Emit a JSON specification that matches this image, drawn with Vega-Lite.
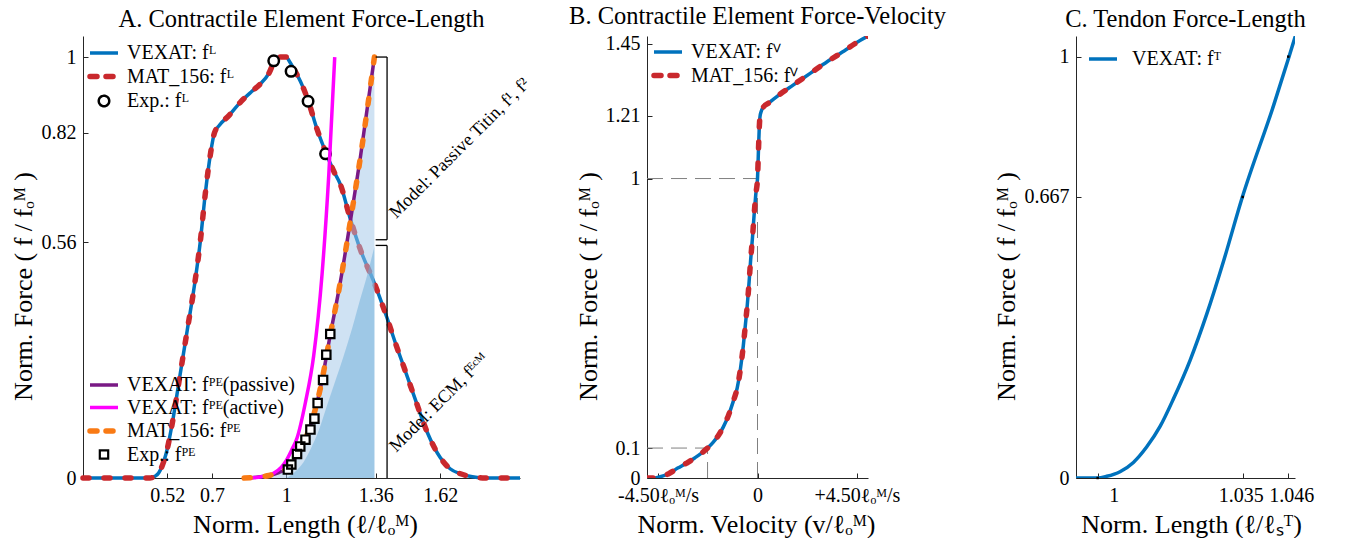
{
  "$schema": "https://vega.github.io/schema/vega-lite/v6.json",
  "padding": {"left": 10, "top": 4, "right": 5, "bottom": 0},
  "config": {
    "view": {"stroke": null},
    "font": "Liberation Serif",
    "title": {"font": "Liberation Serif", "fontSize": 24.5, "fontWeight": "normal", "color": "#000000", "offset": 4},
    "axis": {"labelFont": "Liberation Serif", "labelFontSize": 20, "labelColor": "#000000", "titleFont": "Liberation Serif", "titleFontSize": 26, "titleFontWeight": "normal", "titleColor": "#000000", "domainColor": "#262626", "domainWidth": 1, "tickColor": "#262626", "tickSize": -5, "tickWidth": 1, "labelPadding": 12, "grid": false, "labelFlush": false, "labelOverlap": false},
    "legend": {"labelFont": "Liberation Serif", "labelFontSize": 20, "labelColor": "#000000", "labelLimit": 400, "symbolSize": 400, "symbolType": "stroke", "labelOffset": 13, "rowPadding": 2.5, "padding": 4, "orient": "none", "title": null}
  },
  "datasets": {
    "fl": [
      {"x": 0.18, "y": 0}, {"x": 0.45, "y": 0}, {"x": 0.47, "y": 0.004}, {"x": 0.485, "y": 0.012}, {"x": 0.5, "y": 0.03}, {"x": 0.516, "y": 0.06}, {"x": 0.54, "y": 0.13}, {"x": 0.57, "y": 0.24}, {"x": 0.6, "y": 0.35}, {"x": 0.63, "y": 0.46}, {"x": 0.653, "y": 0.562}, {"x": 0.673, "y": 0.675}, {"x": 0.694, "y": 0.77}, {"x": 0.71, "y": 0.82}, {"x": 0.73, "y": 0.838}, {"x": 0.77, "y": 0.862}, {"x": 0.815, "y": 0.893}, {"x": 0.86, "y": 0.918}, {"x": 0.895, "y": 0.936}, {"x": 0.93, "y": 0.962}, {"x": 0.956, "y": 0.995}, {"x": 0.965, "y": 1.0}, {"x": 1.0, "y": 1.0}, {"x": 1.012, "y": 0.99}, {"x": 1.028, "y": 0.974}, {"x": 1.063, "y": 0.934}, {"x": 1.0875, "y": 0.897}, {"x": 1.124, "y": 0.828}, {"x": 1.158, "y": 0.775}, {"x": 1.19, "y": 0.73}, {"x": 1.218, "y": 0.697}, {"x": 1.258, "y": 0.615}, {"x": 1.3, "y": 0.54}, {"x": 1.352, "y": 0.467}, {"x": 1.406, "y": 0.38}, {"x": 1.44, "y": 0.32}, {"x": 1.473, "y": 0.265}, {"x": 1.513, "y": 0.198}, {"x": 1.567, "y": 0.11}, {"x": 1.621, "y": 0.048}, {"x": 1.66, "y": 0.022}, {"x": 1.702, "y": 0.01}, {"x": 1.75, "y": 0.003}, {"x": 1.8, "y": 0}, {"x": 1.942, "y": 0}
    ],
    "fl_exp": [
      {"x": 0.949, "y": 0.991}, {"x": 1.019, "y": 0.966}, {"x": 1.0875, "y": 0.895}, {"x": 1.158, "y": 0.77}
    ],
    "fpe_pass": [
      {"x": 0.83, "y": 0}, {"x": 0.88, "y": 0.002}, {"x": 0.93, "y": 0.006}, {"x": 0.97, "y": 0.013}, {"x": 1.0, "y": 0.022}, {"x": 1.02, "y": 0.034}, {"x": 1.043, "y": 0.055}, {"x": 1.07, "y": 0.085}, {"x": 1.097, "y": 0.124}, {"x": 1.137, "y": 0.213}, {"x": 1.177, "y": 0.34}, {"x": 1.218, "y": 0.467}, {"x": 1.258, "y": 0.61}, {"x": 1.298, "y": 0.76}, {"x": 1.355, "y": 1.0}
    ],
    "fpe_act": [
      {"x": 0.85, "y": 0}, {"x": 0.9, "y": 0.003}, {"x": 0.95, "y": 0.012}, {"x": 0.98, "y": 0.026}, {"x": 1.0, "y": 0.042}, {"x": 1.02, "y": 0.065}, {"x": 1.043, "y": 0.095}, {"x": 1.077, "y": 0.18}, {"x": 1.11, "y": 0.29}, {"x": 1.144, "y": 0.485}, {"x": 1.171, "y": 0.72}, {"x": 1.195, "y": 1.0}
    ],
    "fpe_exp": [
      {"x": 1.006, "y": 0.02}, {"x": 1.02, "y": 0.032}, {"x": 1.043, "y": 0.057}, {"x": 1.056, "y": 0.075}, {"x": 1.077, "y": 0.091}, {"x": 1.097, "y": 0.115}, {"x": 1.113, "y": 0.141}, {"x": 1.126, "y": 0.178}, {"x": 1.148, "y": 0.233}, {"x": 1.161, "y": 0.293}, {"x": 1.177, "y": 0.342}
    ],
    "ecm": [
      {"x": 1.0, "y": 0}, {"x": 1.03, "y": 0.012}, {"x": 1.06, "y": 0.03}, {"x": 1.097, "y": 0.068}, {"x": 1.13, "y": 0.112}, {"x": 1.164, "y": 0.172}, {"x": 1.2, "y": 0.235}, {"x": 1.231, "y": 0.29}, {"x": 1.265, "y": 0.355}, {"x": 1.298, "y": 0.425}, {"x": 1.325, "y": 0.48}, {"x": 1.355, "y": 0.55}
    ],
    "brackets": [
      {"x": 1.406, "x2": 1.406, "y": 0.566, "y2": 1.0}, {"x": 1.36, "x2": 1.406, "y": 1.0, "y2": 1.0}, {"x": 1.36, "x2": 1.406, "y": 0.566, "y2": 0.566},
      {"x": 1.406, "x2": 1.406, "y": 0, "y2": 0.5525}, {"x": 1.36, "x2": 1.406, "y": 0.5525, "y2": 0.5525}
    ],
    "annot": [
      {"x": 1.443, "y": 0.615, "label": "Model: Passive Titin, f¹, f²"},
      {"x": 1.443, "y": 0.06, "label": "Model: ECM, fᴱᶜᴹ"}
    ],
    "fv": [
      {"x": -5, "y": 0}, {"x": -4.68, "y": 0}, {"x": -4.53, "y": 0.002}, {"x": -4.0, "y": 0.015}, {"x": -3.61, "y": 0.033}, {"x": -3.2, "y": 0.05}, {"x": -2.84, "y": 0.067}, {"x": -2.55, "y": 0.082}, {"x": -2.26, "y": 0.1}, {"x": -2.0, "y": 0.12}, {"x": -1.77, "y": 0.142}, {"x": -1.55, "y": 0.17}, {"x": -1.31, "y": 0.21}, {"x": -1.1, "y": 0.255}, {"x": -0.92, "y": 0.3}, {"x": -0.78, "y": 0.36}, {"x": -0.645, "y": 0.44}, {"x": -0.55, "y": 0.51}, {"x": -0.46, "y": 0.58}, {"x": -0.38, "y": 0.655}, {"x": -0.31, "y": 0.728}, {"x": -0.23, "y": 0.8}, {"x": -0.154, "y": 0.878}, {"x": -0.08, "y": 0.945}, {"x": 0, "y": 1.0}, {"x": 0.046, "y": 1.1}, {"x": 0.08, "y": 1.17}, {"x": 0.11, "y": 1.205}, {"x": 0.17, "y": 1.225}, {"x": 0.26, "y": 1.238}, {"x": 0.5, "y": 1.252}, {"x": 0.845, "y": 1.272}, {"x": 1.61, "y": 1.312}, {"x": 2.4, "y": 1.352}, {"x": 3.15, "y": 1.39}, {"x": 4.0, "y": 1.43}, {"x": 4.4, "y": 1.45}, {"x": 5, "y": 1.476}
    ],
    "fv_ref": [
      {"x": -5, "x2": 0, "y": 1, "y2": 1}, {"x": 0, "x2": 0, "y": 0, "y2": 1}, {"x": -5, "x2": -2.26, "y": 0.1, "y2": 0.1}, {"x": -2.26, "x2": -2.26, "y": 0, "y2": 0.1}
    ],
    "ft": [
      {"x": 0.99478, "y": 0}, {"x": 1.0, "y": 0}, {"x": 1.00219, "y": 0.004}, {"x": 1.0054, "y": 0.015}, {"x": 1.00863, "y": 0.037}, {"x": 1.01186, "y": 0.074}, {"x": 1.0151, "y": 0.123}, {"x": 1.0183, "y": 0.188}, {"x": 1.02233, "y": 0.28}, {"x": 1.02636, "y": 0.39}, {"x": 1.03039, "y": 0.515}, {"x": 1.03483, "y": 0.664}, {"x": 1.04248, "y": 0.885}, {"x": 1.04612, "y": 0.998}, {"x": 1.04771, "y": 1.049}
    ],
    "ft_pts": [
      {"x": 1.0, "y": 0}, {"x": 1.035, "y": 0.667}, {"x": 1.046, "y": 1.0}
    ]
  },
  "spacing": 0,
  "bounds": "flush",
  "resolve": {"scale": {"color": "independent"}, "legend": {"color": "independent"}},
  "hconcat": [
    {
      "width": 437, "height": 442,
      "title": "A. Contractile Element Force-Length",
      "encoding": {
        "x": {"field": "x", "type": "quantitative", "scale": {"domain": [0.18, 1.942], "nice": false, "zero": false},
              "axis": {"values": [0.52, 0.7, 1, 1.36, 1.62], "labelExpr": "'' + datum.value", "title": "Norm. Length (ℓ/ℓₒᴹ)", "titleX": 222, "titleY": 54.5, "titleBaseline": "alphabetic", "titleAlign": "center"}},
        "y": {"field": "y", "type": "quantitative", "scale": {"domain": [0, 1.05], "nice": false},
              "axis": {"values": [0, 0.56, 0.82, 1], "labelExpr": "'' + datum.value", "title": "Norm. Force ( f / fₒᴹ )", "titleX": -60, "titleY": 250, "titleAngle": 270, "titleAlign": "center", "titleBaseline": "middle"}}
      },
      "layer": [
        {
          "layer": [
            {"data": {"name": "fl"}, "mark": {"type": "line", "strokeWidth": 3.5, "interpolate": "monotone"},
             "encoding": {"color": {"datum": "VEXAT: fᴸ", "type": "nominal",
               "scale": {"domain": ["VEXAT: fᴸ", "MAT_156: fᴸ", "Exp.: fᴸ"], "range": ["#0072BD", "#C9282D", "#000000"]},
               "legend": {"legendX": 7, "legendY": 3,
                 "encode": {"symbols": {"update": {
                   "shape": {"signal": "datum.value === 'Exp.: fᴸ' ? 'circle' : 'stroke'"},
                   "size": {"signal": "datum.value === 'Exp.: fᴸ' ? 110 : 784"},
                   "stroke": {"signal": "datum.value === 'VEXAT: fᴸ' ? '#0072BD' : (datum.value === 'MAT_156: fᴸ' ? '#C9282D' : '#000000')"},
                   "strokeWidth": {"signal": "datum.value === 'MAT_156: fᴸ' ? 5.5 : (datum.value === 'Exp.: fᴸ' ? 2.5 : 3.5)"},
                   "strokeDash": {"signal": "datum.value === 'MAT_156: fᴸ' ? [7, 9] : [1, 0]"},
                   "strokeCap": {"signal": "datum.value === 'MAT_156: fᴸ' ? 'round' : 'butt'"},
                   "fill": {"value": "#ffffff"},
                   "opacity": {"value": 1}
                 }}}}}}},
            {"data": {"name": "fl"}, "mark": {"type": "line", "strokeWidth": 5.5, "strokeDash": [6, 15], "strokeCap": "round", "interpolate": "monotone"},
             "encoding": {"color": {"datum": "MAT_156: fᴸ", "type": "nominal"}}},
            {"data": {"name": "fl_exp"}, "mark": {"type": "point", "shape": "circle", "filled": true, "color": "#ffffff", "size": 110, "opacity": 1}},
            {"data": {"name": "fl_exp"}, "mark": {"type": "point", "shape": "circle", "filled": false, "strokeWidth": 2.5, "size": 110, "opacity": 1},
             "encoding": {"color": {"datum": "Exp.: fᴸ", "type": "nominal"}}}
          ]
        },
        {"data": {"name": "fpe_pass"}, "mark": {"type": "area", "color": "#9fc5e8", "opacity": 0.5, "interpolate": "monotone"}},
        {"data": {"name": "ecm"}, "mark": {"type": "area", "color": "#6daed9", "opacity": 0.5, "interpolate": "monotone"}},
        {
          "layer": [
            {"data": {"name": "fpe_pass"}, "mark": {"type": "line", "strokeWidth": 3.5, "interpolate": "monotone"},
             "encoding": {"color": {"datum": "VEXAT: fᴾᴱ(passive)", "type": "nominal",
               "scale": {"domain": ["VEXAT: fᴾᴱ(passive)", "VEXAT: fᴾᴱ(active)", "MAT_156: fᴾᴱ", "Exp.: fᴾᴱ"], "range": ["#7a1a85", "#FF00FF", "#F97A14", "#000000"]},
               "legend": {"legendX": 7, "legendY": 335,
                 "encode": {"symbols": {"update": {
                   "shape": {"signal": "datum.value === 'Exp.: fᴾᴱ' ? 'square' : 'stroke'"},
                   "size": {"signal": "datum.value === 'Exp.: fᴾᴱ' ? 70 : 784"},
                   "stroke": {"signal": "datum.value === 'VEXAT: fᴾᴱ(passive)' ? '#7a1a85' : (datum.value === 'VEXAT: fᴾᴱ(active)' ? '#FF00FF' : (datum.value === 'MAT_156: fᴾᴱ' ? '#F97A14' : '#000000'))"},
                   "strokeWidth": {"signal": "datum.value === 'MAT_156: fᴾᴱ' ? 5.5 : (datum.value === 'Exp.: fᴾᴱ' ? 2.2 : 3.5)"},
                   "strokeDash": {"signal": "datum.value === 'MAT_156: fᴾᴱ' ? [7, 9] : [1, 0]"},
                   "strokeCap": {"signal": "datum.value === 'MAT_156: fᴾᴱ' ? 'round' : 'butt'"},
                   "fill": {"value": "#ffffff"},
                   "opacity": {"value": 1}
                 }}}}}}},
            {"data": {"name": "fpe_act"}, "mark": {"type": "line", "strokeWidth": 3.5, "interpolate": "monotone"},
             "encoding": {"color": {"datum": "VEXAT: fᴾᴱ(active)", "type": "nominal"}}},
            {"data": {"name": "fpe_pass"}, "mark": {"type": "line", "strokeWidth": 5.5, "strokeDash": [6, 15], "strokeCap": "round", "interpolate": "monotone"},
             "encoding": {"color": {"datum": "MAT_156: fᴾᴱ", "type": "nominal"}}},
            {"data": {"name": "fpe_exp"}, "mark": {"type": "point", "shape": "square", "filled": true, "color": "#ffffff", "size": 70, "opacity": 1}},
            {"data": {"name": "fpe_exp"}, "mark": {"type": "point", "shape": "square", "filled": false, "strokeWidth": 2.2, "size": 70, "opacity": 1},
             "encoding": {"color": {"datum": "Exp.: fᴾᴱ", "type": "nominal"}}}
          ]
        },
        {"data": {"name": "brackets"}, "mark": {"type": "rule", "color": "#000000", "strokeWidth": 1.3},
         "encoding": {"x2": {"field": "x2"}, "y2": {"field": "y2"}}},
        {"data": {"name": "annot"}, "mark": {"type": "text", "angle": 315, "align": "left", "baseline": "alphabetic", "font": "Liberation Serif", "fontSize": 18, "color": "#000000"},
         "encoding": {"text": {"field": "label"}}}
      ],
      "resolve": {"scale": {"color": "independent"}, "legend": {"color": "independent"}}
    },
    {"width": 127, "height": 442, "data": {"values": []}, "mark": "point"},
    {
      "width": 221, "height": 442,
      "title": "B. Contractile Element Force-Velocity",
      "encoding": {
        "x": {"field": "x", "type": "quantitative", "scale": {"domain": [-5, 5], "nice": false, "zero": false},
              "axis": {"values": [-4.5, 0, 4.5], "labelExpr": "datum.value < 0 ? '-4.50ℓₒᴹ/s' : (datum.value > 0 ? '+4.50ℓₒᴹ/s' : '0')", "title": "Norm. Velocity (v/ℓₒᴹ)", "titleX": 109, "titleY": 54.5, "titleBaseline": "alphabetic", "titleAlign": "center"}},
        "y": {"field": "y", "type": "quantitative", "scale": {"domain": [0, 1.476], "nice": false},
              "axis": {"values": [0, 0.1, 1, 1.21, 1.45], "labelExpr": "'' + datum.value", "title": "Norm. Force ( f / fₒᴹ )", "titleX": -59, "titleY": 250, "titleAngle": 270, "titleAlign": "center", "titleBaseline": "middle"}}
      },
      "layer": [
        {"data": {"name": "fv_ref"}, "mark": {"type": "rule", "color": "#808080", "strokeWidth": 1, "strokeDash": [16, 8]},
         "encoding": {"x2": {"field": "x2"}, "y2": {"field": "y2"}}},
        {"data": {"name": "fv"}, "mark": {"type": "line", "strokeWidth": 3.5, "interpolate": "monotone", "clip": true},
         "encoding": {"color": {"datum": "VEXAT: fⱽ", "type": "nominal",
           "scale": {"domain": ["VEXAT: fⱽ", "MAT_156: fⱽ"], "range": ["#0072BD", "#C9282D"]},
           "legend": {"legendX": 7, "legendY": 2,
             "encode": {"symbols": {"update": {
               "shape": {"value": "stroke"},
               "size": {"value": 784},
               "stroke": {"signal": "datum.value === 'VEXAT: fⱽ' ? '#0072BD' : '#C9282D'"},
               "strokeWidth": {"signal": "datum.value === 'MAT_156: fⱽ' ? 5.5 : 3.5"},
               "strokeDash": {"signal": "datum.value === 'MAT_156: fⱽ' ? [7, 9] : [1, 0]"},
               "strokeCap": {"signal": "datum.value === 'MAT_156: fⱽ' ? 'round' : 'butt'"},
               "opacity": {"value": 1}
             }}}}}}},
        {"data": {"name": "fv"}, "mark": {"type": "line", "strokeWidth": 5.5, "strokeDash": [6, 15], "strokeCap": "round", "interpolate": "monotone", "clip": true},
         "encoding": {"color": {"datum": "MAT_156: fⱽ", "type": "nominal"}}}
      ]
    },
    {"width": 208, "height": 442, "data": {"values": []}, "mark": "point"},
    {
      "width": 219, "height": 442,
      "title": "C. Tendon Force-Length",
      "encoding": {
        "x": {"field": "x", "type": "quantitative", "scale": {"domain": [0.99478, 1.04762], "nice": false, "zero": false},
              "axis": {"values": [1, 1.035, 1.046], "labelExpr": "'' + datum.value", "title": "Norm. Length (ℓ/ℓₛᵀ)", "titleX": 115, "titleY": 54.5, "titleBaseline": "alphabetic", "titleAlign": "center",
                       "labelOffset": {"condition": [{"test": "datum.value < 1.01", "value": 16}, {"test": "datum.value < 1.04", "value": -2}], "value": 3}}},
        "y": {"field": "y", "type": "quantitative", "scale": {"domain": [0, 1.049], "nice": false},
              "axis": {"values": [0, 0.667, 1], "labelExpr": "'' + datum.value", "title": "Norm. Force ( f / fₒᴹ )", "titleX": -70, "titleY": 250, "titleAngle": 270, "titleAlign": "center", "titleBaseline": "middle"}}
      },
      "layer": [
        {"data": {"name": "ft"}, "mark": {"type": "line", "strokeWidth": 3.5, "interpolate": "monotone", "clip": true},
         "encoding": {"color": {"datum": "VEXAT: fᵀ", "type": "nominal",
           "scale": {"domain": ["VEXAT: fᵀ"], "range": ["#0072BD"]},
           "legend": {"legendX": 7, "legendY": 3,
             "encode": {"symbols": {"update": {
               "shape": {"value": "stroke"},
               "size": {"value": 784},
               "stroke": {"value": "#0072BD"},
               "strokeWidth": {"value": 3.5},
               "opacity": {"value": 1}
             }}}}}}},
        {"data": {"name": "ft_pts"}, "mark": {"type": "point", "shape": "square", "filled": true, "color": "#000000", "size": 6, "opacity": 1}}
      ]
    }
  ]
}
